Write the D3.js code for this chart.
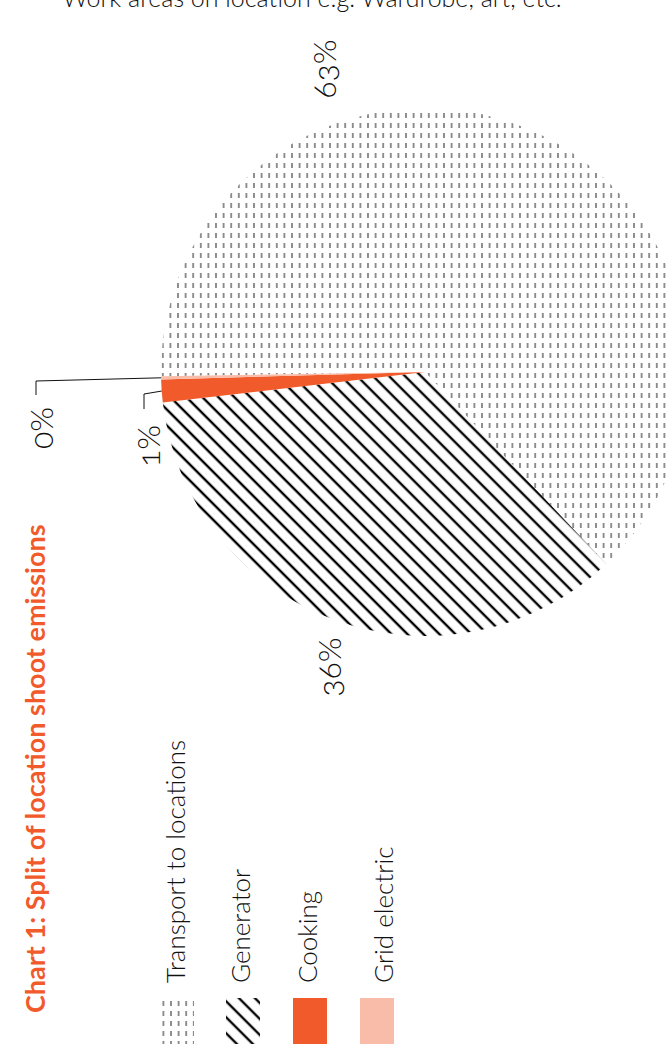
<!DOCTYPE html>
<html>
<head>
<meta charset="utf-8">
<script src="https://cdn.jsdelivr.net/npm/d3@7"></script>
<style>
  html, body { margin: 0; padding: 0; background: #fff; overflow: hidden; }
  svg { display: block; }
  text { font-family: "Lato", "Open Sans", sans-serif; }
</style>
</head>
<body>
<div id="chart"></div>
<script>
// data
const categories = ['Transport to locations', 'Generator', 'Cooking', 'Grid electric'];
const shares = [63.2, 35.2, 1.4, 0.2];
const shareLabels = ['63%', '36%', '1%', '0%'];
const fills = ['url(#dashes)', 'url(#hatch)', '#f15a2b', '#f9bca8'];

const width = 668, height = 1044;
const cx = 425, cy = 372, radius = 264;
const orange = '#f15a2b';

const svg = d3.select('#chart').append('svg')
  .attr('width', width)
  .attr('height', height);

// patterns
const defs = svg.append('defs');

const dashes = defs.append('pattern')
  .attr('id', 'dashes')
  .attr('patternUnits', 'userSpaceOnUse')
  .attr('width', 7.6)
  .attr('height', 10);
dashes.append('line')
  .attr('x1', 3.8).attr('x2', 3.8)
  .attr('y1', 1).attr('y2', 6)
  .attr('stroke', '#222')
  .attr('stroke-width', 1);

const hatch = defs.append('pattern')
  .attr('id', 'hatch')
  .attr('patternUnits', 'userSpaceOnUse')
  .attr('width', 11.3)
  .attr('height', 11.3)
  .attr('patternTransform', 'rotate(-45)');
hatch.append('line')
  .attr('x1', 5.6).attr('x2', 5.6)
  .attr('y1', -2).attr('y2', 14)
  .attr('stroke', '#000')
  .attr('stroke-width', 2.4);

// text cut off at the top of the page
svg.append('text')
  .attr('x', 312)
  .attr('y', 7)
  .attr('text-anchor', 'middle')
  .attr('font-size', 25)
  .attr('font-weight', 300)
  .attr('fill', '#111')
  .text('Work areas on location e.g. Wardrobe, art, etc.');

// pie
const start = -Math.PI / 2 - 0.9 * Math.PI / 180;
const pie = d3.pie()
  .sort(null)
  .startAngle(start)
  .endAngle(start + 2 * Math.PI);

const arc = d3.arc().innerRadius(0).outerRadius(radius);
const arcs = pie(shares);

const g = svg.append('g').attr('transform', `translate(${cx},${cy})`);

g.selectAll('path')
  .data(arcs)
  .enter()
  .append('path')
  .attr('d', arc)
  .attr('fill', (d, i) => fills[i]);

// percentage labels, all turned a quarter anticlockwise
const labelPos = [[336, 69], [341, 667], [160, 446], [53, 428]];

svg.selectAll('.pct')
  .data(shareLabels)
  .enter()
  .append('text')
  .attr('class', 'pct')
  .attr('transform', (d, i) => `translate(${labelPos[i][0]},${labelPos[i][1]}) rotate(-90)`)
  .attr('text-anchor', 'middle')
  .attr('font-size', 32)
  .attr('font-weight', 300)
  .style('font-variant-numeric', 'oldstyle-nums')
  .attr('fill', '#111')
  .text(d => d);

// leader lines for the two thin slices
const edge = a => [cx + Math.sin(a) * radius, cy - Math.cos(a) * radius];
const mid = d => (d.startAngle + d.endAngle) / 2;
const leaders = [
  { d: arcs[3], elbow: [36, 381], end: [36, 395] },
  { d: arcs[2], elbow: [144, 394], end: [144, 409] }
];
svg.selectAll('.leader')
  .data(leaders)
  .enter()
  .append('path')
  .attr('class', 'leader')
  .attr('d', l => d3.line()([edge(mid(l.d)), l.elbow, l.end]))
  .attr('fill', 'none')
  .attr('stroke', '#111')
  .attr('stroke-width', 1);

// title
svg.append('text')
  .attr('transform', 'translate(45,1013) rotate(-90)')
  .attr('font-size', 27)
  .attr('font-weight', 700)
  .attr('fill', orange)
  .text('Chart 1: Split of location shoot emissions');

// legend
const swatchX = [160, 226, 293, 360];
const legendBase = [185, 250, 317, 393];

svg.selectAll('.swatch')
  .data(categories)
  .enter()
  .append('rect')
  .attr('class', 'swatch')
  .attr('x', (d, i) => swatchX[i])
  .attr('y', 998)
  .attr('width', 34)
  .attr('height', 50)
  .attr('fill', (d, i) => fills[i]);

svg.selectAll('.legend-label')
  .data(categories)
  .enter()
  .append('text')
  .attr('class', 'legend-label')
  .attr('transform', (d, i) => `translate(${legendBase[i]},983) rotate(-90)`)
  .attr('font-size', 26)
  .attr('font-weight', 300)
  .attr('fill', '#111')
  .text(d => d);
</script>
</body>
</html>
